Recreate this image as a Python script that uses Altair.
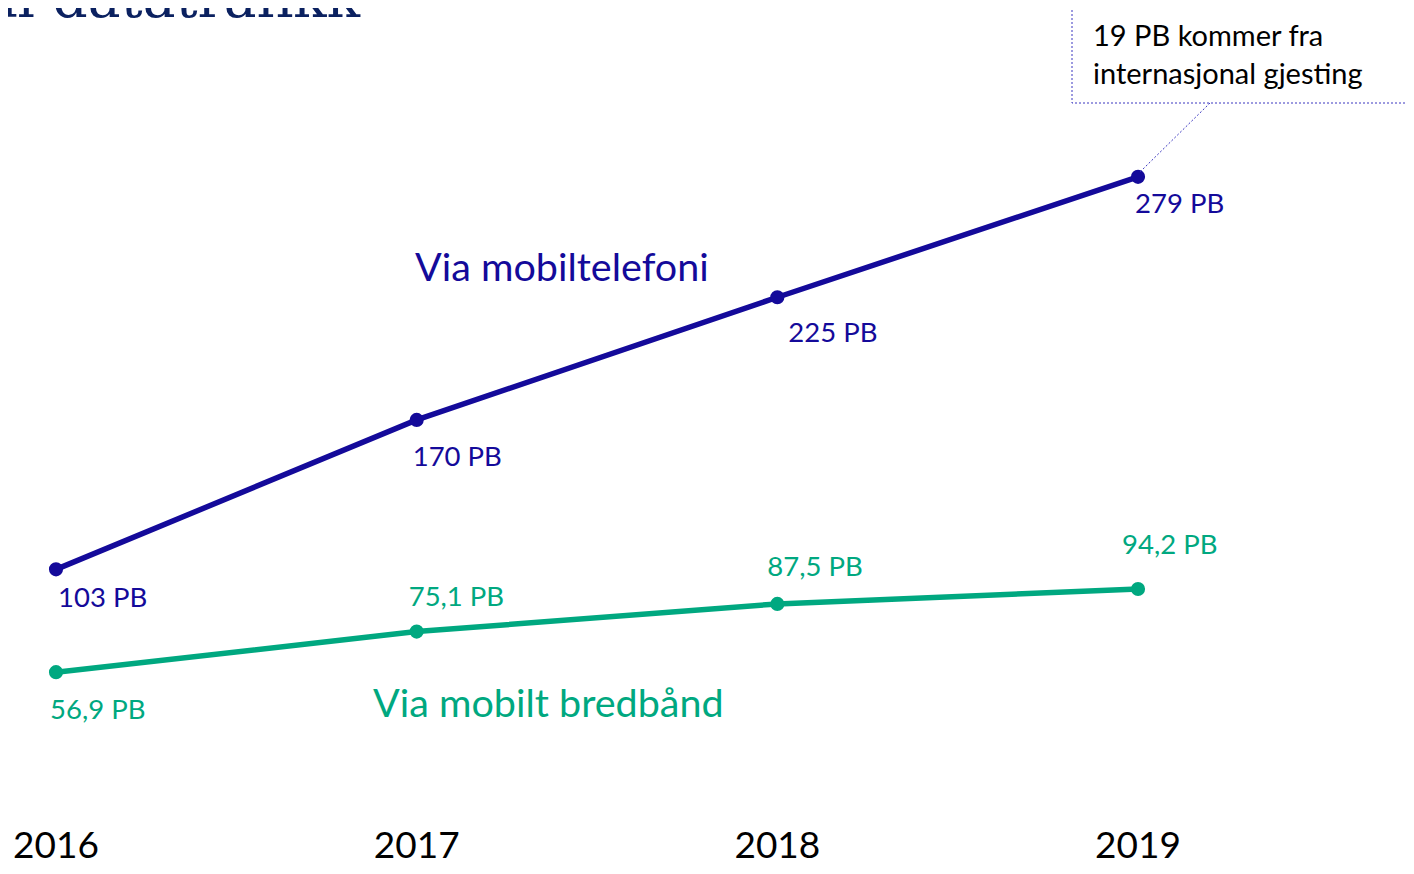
import altair as alt
import pandas as pd

years = [2016, 2017, 2018, 2019]
mobiltelefoni = [103, 170, 225, 279]
mobilt_bredband = [56.9, 75.1, 87.5, 94.2]
series_names = ["Via mobiltelefoni", "Via mobilt bredbånd"]
note_lines = ["19 PB kommer fra", "internasjonal gjesting"]
title_text = "Mobil datatrafikk"

BLUE = "#140A9A"
GREEN = "#00A880"
NAVY = "#0B2160"
FONT = "Lato"


def fmt(v, dec):
    s = f"{v:.{dec}f}" if dec else f"{v:.0f}"
    return s.replace(".", ",") + " PB"


rows = []
for y_, v in zip(years, mobiltelefoni):
    rows.append({"year": y_, "value": v, "series": series_names[0], "label": fmt(v, 0)})
for y_, v in zip(years, mobilt_bredband):
    rows.append({"year": y_, "value": v, "series": series_names[1], "label": fmt(v, 1)})
df = pd.DataFrame(rows)
one = pd.DataFrame({"k": [0]})

xs = alt.Scale(domain=[2015.8669, 2019.743])
ys = alt.Scale(domain=[-30.0, 354.7])
X = alt.X("year:Q", scale=xs, axis=None)
Y = alt.Y("value:Q", scale=ys, axis=None)

layers = []
colors = {series_names[0]: BLUE, series_names[1]: GREEN}
for name in series_names:
    d = df[df.series == name]
    base = alt.Chart(d).encode(x=X, y=Y)
    layers.append(base.mark_line(strokeWidth=5.5, color=colors[name]))
    layers.append(base.mark_circle(size=200, opacity=1, color=colors[name]))

# label offsets (px) relative to each point
offsets = {
    series_names[0]: [(2, 38), (-4, 46), (11, 45), (-3, 36)],
    series_names[1]: [(-6, 47), (-8, -26), (-10, -28), (-16, -35)],
}
for name in series_names:
    d = df[df.series == name].reset_index(drop=True)
    for i in range(len(d)):
        dx, dy = offsets[name][i]
        layers.append(
            alt.Chart(d.iloc[[i]]).mark_text(
                align="left", baseline="alphabetic", dx=dx, dy=dy,
                fontSize=27.5, font=FONT, color=colors[name]
            ).encode(x=X, y=Y, text="label:N")
        )

# series name labels
layers.append(alt.Chart(one).mark_text(
    align="left", baseline="alphabetic", fontSize=39.5, font=FONT, color=BLUE, text=series_names[0]
).encode(x=alt.value(407), y=alt.value(273)))
layers.append(alt.Chart(one).mark_text(
    align="left", baseline="alphabetic", fontSize=39.5, font=FONT, color=GREEN, text=series_names[1]
).encode(x=alt.value(365), y=alt.value(709)))

# year labels
ydf = pd.DataFrame({"year": years, "lab": [str(v) for v in years]})
layers.append(alt.Chart(ydf).mark_text(
    align="center", baseline="alphabetic", fontSize=37, font=FONT, color="black"
).encode(x=X, y=alt.value(850), text="lab:N"))

# title (cut at top)
layers.append(alt.Chart(one).mark_text(
    align="right", baseline="alphabetic", fontSize=55, font="DejaVu Serif", color=NAVY, text=title_text
).encode(x=alt.value(352), y=alt.value(9)))

# note box
layers.append(alt.Chart(one).mark_rect(
    fill="white", fillOpacity=0, stroke="#3A36C0", strokeWidth=1, strokeDash=[2, 2]
).encode(x=alt.value(1064), x2=alt.value(1420), y=alt.value(-2), y2=alt.value(95)))
layers.append(alt.Chart(one).mark_rule(
    stroke="#3A36C0", strokeWidth=1, strokeDash=[2, 2]
).encode(x=alt.value(1202), y=alt.value(95), x2=alt.value(1132), y2=alt.value(164)))
for i, line in enumerate(note_lines):
    layers.append(alt.Chart(one).mark_text(
        align="left", baseline="alphabetic", fontSize=29, font=FONT, color="black", text=line
    ).encode(x=alt.value(1085), y=alt.value(38 + 38 * i)))

chart = alt.layer(*layers).properties(
    width=1398, height=858,
    autosize=alt.AutoSizeParams(type="none"),
    padding=0,
).configure_view(stroke=None)

chart.save("out.html", embed_options={"renderer": "svg", "actions": False})
